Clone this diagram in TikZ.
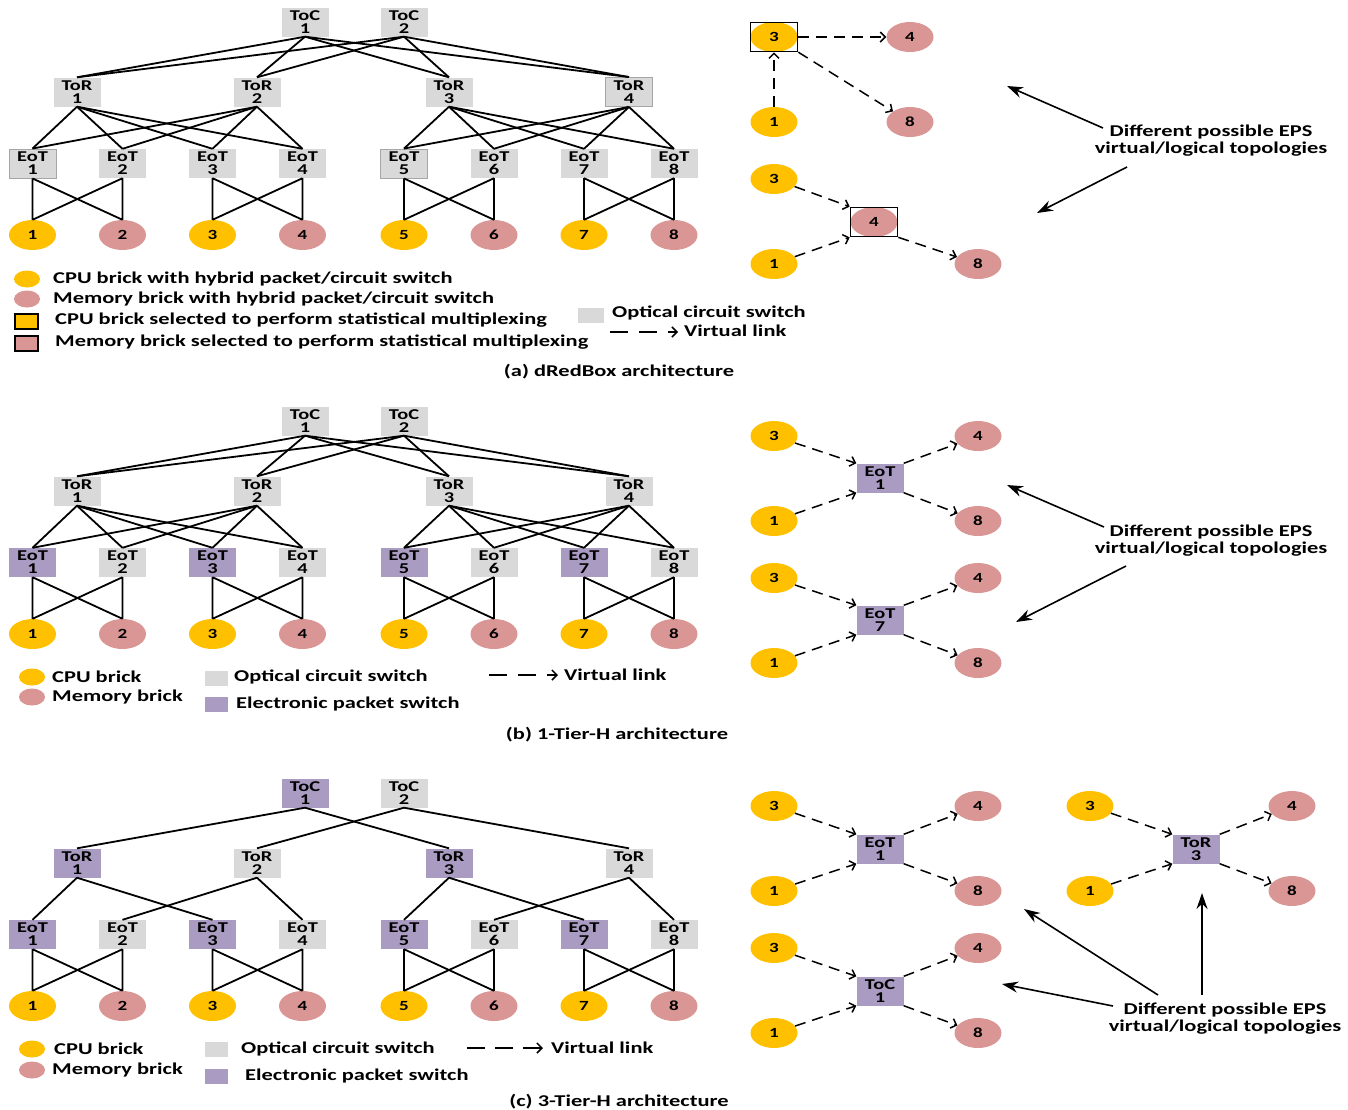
\documentclass[tikz,border=0pt]{standalone}
\usepackage{fontspec}
\newfontfamily\figfont{Carlito}[FakeStretch=1.36]
\usetikzlibrary{arrows.meta,shapes.geometric}
\definecolor{cpuyellow}{RGB}{255,192,0}
\definecolor{mempink}{RGB}{217,150,148}
\definecolor{ocsgray}{RGB}{217,217,217}
\definecolor{epspurple}{RGB}{169,155,193}
\tikzset{
  ocsbox/.style={rectangle, fill=ocsgray, minimum width=47pt, minimum height=29pt, inner sep=0pt,
    align=center, font=\figfont\bfseries\fontsize{15}{13}\selectfont},
  ocsframe/.style={ocsbox, draw=black!35, line width=0.9pt},
  epsbox/.style={ocsbox, fill=epspurple},
  cpubrick/.style={ellipse, fill=cpuyellow, minimum width=47pt, minimum height=30pt, inner sep=0pt,
    font=\figfont\bfseries\fontsize{14}{14}\selectfont},
  membrick/.style={cpubrick, fill=mempink},
  selbox/.style={rectangle, draw=black, line width=1.7pt, minimum width=47pt, minimum height=29pt, inner sep=0pt},
  fabriclink/.style={draw=black, line width=1.8pt},
  vlink/.style={draw=black, line width=1.5pt, dash pattern=on 11pt off 7pt,
    -{Straight Barb[length=5pt, width=10pt, line width=1.5pt]}},
  callout/.style={draw=black, line width=1.6pt, -{Stealth[length=16pt, width=11pt]}},
  legtext/.style={anchor=west, inner sep=0pt, font=\figfont\bfseries\fontsize{16.5}{18}\selectfont},
  legcpu/.style={ellipse, fill=cpuyellow, minimum width=26pt, minimum height=17pt, inner sep=0pt},
  legmem/.style={legcpu, fill=mempink},
  legsquare/.style={rectangle, minimum width=23pt, minimum height=15pt, inner sep=0pt},
  notetext/.style={align=center, inner sep=0pt, font=\figfont\bfseries\fontsize{16.5}{17}\selectfont},
  captext/.style={inner sep=0pt, font=\figfont\bfseries\fontsize{16.5}{18}\selectfont}
}
\begin{document}
\begin{tikzpicture}[x=1pt,y=-1pt]
\useasboundingbox (0,0) rectangle (1348,1109);
\def\yToC {22}     % row of the ToC switches
\def\yToR {92}     % row of the ToR switches
\def\yEoT {163.5}  % row of the EoT switches
\def\yBrick {235}  % row of the bricks
\def\shiftB {-399pt} % panel (b) below panel (a)
\def\shiftC {-771pt} % panel (c) below panel (a)

%% (a) dRedBox architecture
\begin{scope}
 \node[ocsbox] (aC1) at (305,\yToC) {ToC\\1};
 \node[ocsbox] (aC2) at (404,\yToC) {ToC\\2};
 \foreach \i/\x/\s in {1/77/ocsbox,2/257/ocsbox,3/449/ocsbox,4/629/ocsframe}
   \node[\s] (aR\i) at (\x,\yToR) {ToR\\\i};
 \foreach \i/\x/\s in {1/32.5/ocsframe,2/122.5/ocsbox,3/212.5/ocsbox,4/302.5/ocsbox,
                       5/404/ocsframe,6/494/ocsbox,7/584/ocsbox,8/674/ocsbox}
   \node[\s] (aE\i) at (\x,\yEoT) {EoT\\\i};
 \foreach \i/\x in {1/32.5,3/212.5,5/404,7/584} \node[cpubrick] (aB\i) at (\x,\yBrick) {\i};
 \foreach \i/\x in {2/122.5,4/302.5,6/494,8/674} \node[membrick] (aB\i) at (\x,\yBrick) {\i};
 % links:
 \foreach \c in {1,2} \foreach \r in {1,...,4} \draw[fabriclink] (aC\c.south) -- (aR\r.north);
 \foreach \r in {1,2} \foreach \e in {1,...,4} \draw[fabriclink] (aR\r.south) -- (aE\e.north);
 \foreach \r in {3,4} \foreach \e in {5,...,8} \draw[fabriclink] (aR\r.south) -- (aE\e.north);
 \foreach \p/\q in {1/2,3/4,5/6,7/8} {
   \draw[fabriclink] (aE\p.south) -- (aB\p.north) (aE\p.south) -- (aB\q.north)
                     (aE\q.south) -- (aB\p.north) (aE\q.south) -- (aB\q.north);
 }
\end{scope}
% virtual topologies (a):
 \node[cpubrick] (aT3) at (774,37) {3};
 \node[selbox] (aS3) at (aT3) {};
 \node[membrick] (aT4) at (910,37) {4};
 \node[cpubrick] (aT1) at (774,122) {1};
 \node[membrick] (aT8) at (910,122) {8};
 \draw[vlink] (aT1.north) -- (aS3.south);
 \draw[vlink] (aS3.east) -- (aT4.west);
 \draw[vlink] (aS3) -- (aT8);
 \node[cpubrick] (aU3) at (774,179) {3};
 \node[membrick] (aU4) at (874,222) {4};
 \node[selbox] (aS4) at (aU4) {};
 \node[cpubrick] (aU1) at (774,264) {1};
 \node[membrick] (aU8) at (978,264) {8};
 \draw[vlink] (aU3) -- (aS4.north west);
 \draw[vlink] (aU1) -- (aS4.south west);
 \draw[vlink] (aS4.south east) -- (aU8);
 \node[notetext] (aNote) at (1211,141) {Different possible EPS\\virtual/logical topologies};
 \coordinate (aFrom1) at (1103,128); \coordinate (aTo1) at (1007,86);
 \coordinate (aFrom2) at (1127,167); \coordinate (aTo2) at (1037,213);
 \draw[callout] (aFrom1) -- (aTo1);
 \draw[callout] (aFrom2) -- (aTo2);
% legend (a):
 \node[legcpu] (aLc) at (27,279) {};
 \node[legtext] (aLcT) at (53,279) {CPU brick with hybrid packet/circuit switch};
 \node[legmem] (aLm) at (27,299) {};
 \node[legtext] (aLmT) at (53,299) {Memory brick with hybrid packet/circuit switch};
 \node[legsquare, fill=cpuyellow, draw=black, line width=1.4pt] (aLs) at (26.5,321.5) {};
 \node[legtext] (aLsT) at (55,320) {CPU brick selected to perform statistical multiplexing};
 \node[legsquare, fill=mempink, draw=black, line width=1.4pt] (aLp) at (26.5,343.5) {};
 \node[legtext] (aLpT) at (55,342) {Memory brick selected to perform statistical multiplexing};
 \node[legsquare, fill=ocsgray, minimum width=26pt] (aLo) at (591,315.5) {};
 \node[legtext] (aLoT) at (612,313) {Optical circuit switch};
 \coordinate (aLv1) at (610,332); \coordinate (aLv2) at (678,332);
 \draw[vlink, dash pattern=on 18pt off 11pt] (aLv1) -- (aLv2);
 \node[legtext] (aLvT) at (684,331) {Virtual link};
 \node[captext] (aCap) at (619,372) {(a) dRedBox architecture};

%% (b) 1-Tier-H architecture
\begin{scope}[yshift=\shiftB]
 \node[ocsbox] (bC1) at (305,\yToC) {ToC\\1};
 \node[ocsbox] (bC2) at (404,\yToC) {ToC\\2};
 \foreach \i/\x in {1/77,2/257,3/449,4/629}
   \node[ocsbox] (bR\i) at (\x,\yToR) {ToR\\\i};
 \foreach \i/\x/\s in {1/32.5/epsbox,2/122.5/ocsbox,3/212.5/epsbox,4/302.5/ocsbox,
                       5/404/epsbox,6/494/ocsbox,7/584/epsbox,8/674/ocsbox}
   \node[\s] (bE\i) at (\x,\yEoT) {EoT\\\i};
 \foreach \i/\x in {1/32.5,3/212.5,5/404,7/584} \node[cpubrick] (bB\i) at (\x,\yBrick) {\i};
 \foreach \i/\x in {2/122.5,4/302.5,6/494,8/674} \node[membrick] (bB\i) at (\x,\yBrick) {\i};
 % links:
 \foreach \c in {1,2} \foreach \r in {1,...,4} \draw[fabriclink] (bC\c.south) -- (bR\r.north);
 \foreach \r in {1,2} \foreach \e in {1,...,4} \draw[fabriclink] (bR\r.south) -- (bE\e.north);
 \foreach \r in {3,4} \foreach \e in {5,...,8} \draw[fabriclink] (bR\r.south) -- (bE\e.north);
 \foreach \p/\q in {1/2,3/4,5/6,7/8} {
   \draw[fabriclink] (bE\p.south) -- (bB\p.north) (bE\p.south) -- (bB\q.north)
                     (bE\q.south) -- (bB\p.north) (bE\q.south) -- (bB\q.north);
 }
\end{scope}
% virtual topologies (b):
 \node[cpubrick] (bT3) at (774,436) {3};
 \node[cpubrick] (bT1) at (774,521) {1};
 \node[epsbox] (bX1) at (880,478) {EoT\\1};
 \node[membrick] (bT4) at (978,436) {4};
 \node[membrick] (bT8) at (978,521) {8};
 \node[cpubrick] (bU3) at (774,578) {3};
 \node[cpubrick] (bU1) at (774,663) {1};
 \node[epsbox] (bX7) at (880,620) {EoT\\7};
 \node[membrick] (bU4) at (978,578) {4};
 \node[membrick] (bU8) at (978,663) {8};
 \foreach \g/\s in {bT/bX1,bU/bX7} {
   \draw[vlink] (\g3) -- (\s.north west);
   \draw[vlink] (\g1) -- (\s.south west);
   \draw[vlink] (\s.north east) -- (\g4);
   \draw[vlink] (\s.south east) -- (\g8);
 }
 \node[notetext] (bNote) at (1211,541) {Different possible EPS\\virtual/logical topologies};
 \coordinate (bFrom1) at (1104,527); \coordinate (bTo1) at (1007,485);
 \coordinate (bFrom2) at (1126,566); \coordinate (bTo2) at (1016,622);
 \draw[callout] (bFrom1) -- (bTo1);
 \draw[callout] (bFrom2) -- (bTo2);
% legend (b):
 \node[legcpu] (bLc) at (32,677) {};
 \node[legtext] (bLcT) at (52,677) {CPU brick};
 \node[legmem] (bLm) at (32,697) {};
 \node[legtext] (bLmT) at (52,697) {Memory brick};
 \node[legsquare, fill=ocsgray] (bLo) at (216.5,678) {};
 \node[legtext] (bLoT) at (234,677) {Optical circuit switch};
 \node[legsquare, fill=epspurple] (bLe) at (216.5,704.5) {};
 \node[legtext] (bLeT) at (236,704) {Electronic packet switch};
 \coordinate (bLv1) at (489,675); \coordinate (bLv2) at (558,675);
 \draw[vlink, dash pattern=on 18pt off 11pt] (bLv1) -- (bLv2);
 \node[legtext] (bLvT) at (564,675) {Virtual link};
 \node[captext] (bCap) at (617,735) {(b) 1-Tier-H architecture};

%% (c) 3-Tier-H architecture
\begin{scope}[yshift=\shiftC]
 \node[epsbox] (cC1) at (305,\yToC) {ToC\\1};
 \node[ocsbox] (cC2) at (404,\yToC) {ToC\\2};
 \foreach \i/\x/\s in {1/77/epsbox,2/257/ocsbox,3/449/epsbox,4/629/ocsbox}
   \node[\s] (cR\i) at (\x,\yToR) {ToR\\\i};
 \foreach \i/\x/\s in {1/32.5/epsbox,2/122.5/ocsbox,3/212.5/epsbox,4/302.5/ocsbox,
                       5/404/epsbox,6/494/ocsbox,7/584/epsbox,8/674/ocsbox}
   \node[\s] (cE\i) at (\x,\yEoT) {EoT\\\i};
 \foreach \i/\x in {1/32.5,3/212.5,5/404,7/584} \node[cpubrick] (cB\i) at (\x,\yBrick) {\i};
 \foreach \i/\x in {2/122.5,4/302.5,6/494,8/674} \node[membrick] (cB\i) at (\x,\yBrick) {\i};
 % links:
 \foreach \c/\r in {1/1,1/3,2/2,2/4} \draw[fabriclink] (cC\c.south) -- (cR\r.north);
 \foreach \r/\e in {1/1,1/3,2/2,2/4,3/5,3/7,4/6,4/8} \draw[fabriclink] (cR\r.south) -- (cE\e.north);
 \foreach \p/\q in {1/2,3/4,5/6,7/8} {
   \draw[fabriclink] (cE\p.south) -- (cB\p.north) (cE\p.south) -- (cB\q.north)
                     (cE\q.south) -- (cB\p.north) (cE\q.south) -- (cB\q.north);
 }
\end{scope}
% virtual topologies (c):
 \node[cpubrick] (cT3) at (774,806) {3};
 \node[cpubrick] (cT1) at (774,891) {1};
 \node[epsbox] (cX1) at (880,849) {EoT\\1};
 \node[membrick] (cT4) at (978,806) {4};
 \node[membrick] (cT8) at (978,891) {8};
 \node[cpubrick] (cV3) at (1090,806) {3};
 \node[cpubrick] (cV1) at (1090,891) {1};
 \node[epsbox] (cY3) at (1196,849) {ToR\\3};
 \node[membrick] (cV4) at (1292,806) {4};
 \node[membrick] (cV8) at (1292,891) {8};
 \node[cpubrick] (cU3) at (774,948) {3};
 \node[cpubrick] (cU1) at (774,1033) {1};
 \node[epsbox] (cZ1) at (880,991) {ToC\\1};
 \node[membrick] (cU4) at (978,948) {4};
 \node[membrick] (cU8) at (978,1033) {8};
 \foreach \g/\s in {cT/cX1,cV/cY3,cU/cZ1} {
   \draw[vlink] (\g3) -- (\s.north west);
   \draw[vlink] (\g1) -- (\s.south west);
   \draw[vlink] (\s.north east) -- (\g4);
   \draw[vlink] (\s.south east) -- (\g8);
 }
 \node[notetext] (cNote) at (1225,1019) {Different possible EPS\\virtual/logical topologies};
 \coordinate (cFrom1) at (1158,995); \coordinate (cTo1) at (1024,909);
 \coordinate (cFrom2) at (1202,995); \coordinate (cTo2) at (1202,893);
 \coordinate (cFrom3) at (1113,1006); \coordinate (cTo3) at (1002,984);
 \draw[callout] (cFrom1) -- (cTo1);
 \draw[callout] (cFrom2) -- (cTo2);
 \draw[callout] (cFrom3) -- (cTo3);
% legend (c):
 \node[legcpu] (cLc) at (32,1049) {};
 \node[legtext] (cLcT) at (54,1049) {CPU brick};
 \node[legmem] (cLm) at (32,1070) {};
 \node[legtext] (cLmT) at (52,1070) {Memory brick};
 \node[legsquare, fill=ocsgray] (cLo) at (216.5,1049.5) {};
 \node[legtext] (cLoT) at (241,1049) {Optical circuit switch};
 \node[legsquare, fill=epspurple] (cLe) at (216.5,1076.5) {};
 \node[legtext] (cLeT) at (245,1076) {Electronic packet switch};
 \coordinate (cLv1) at (467,1048); \coordinate (cLv2) at (543,1048);
 \draw[vlink, dash pattern=on 18pt off 10pt] (cLv1) -- (cLv2);
 \node[legtext] (cLvT) at (551,1048) {Virtual link};
 \node[captext] (cCap) at (619,1102) {(c) 3-Tier-H architecture};
\end{tikzpicture}
\end{document}
